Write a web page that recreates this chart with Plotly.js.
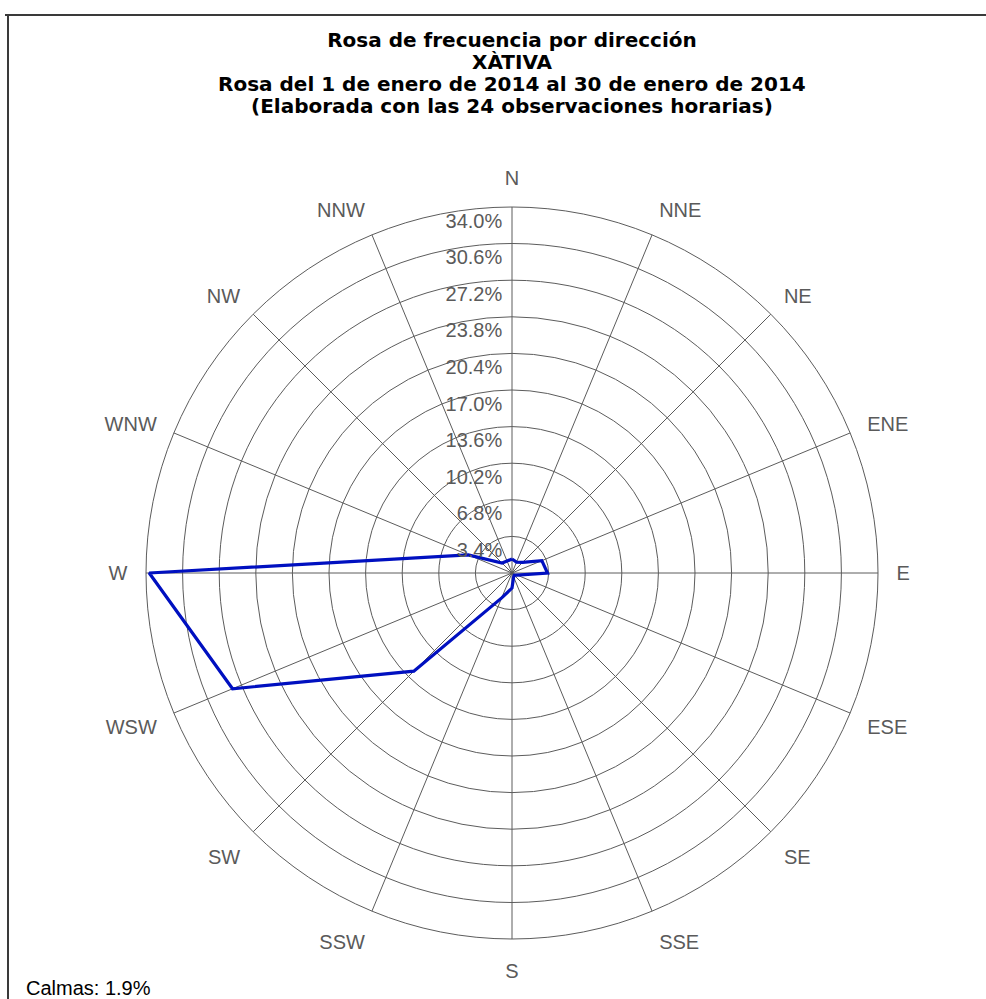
<!DOCTYPE html>
<html>
<head>
<meta charset="utf-8">
<script src="https://cdn.plot.ly/plotly-3.0.1.min.js"></script>
<style>
  html, body { margin: 0; padding: 0; background: #ffffff; }
  #chart { width: 986px; height: 999px; }
</style>
</head>
<body>
<div id="chart"></div>
<script>
// ---- Data ----
const directions = ['N','NNE','NE','ENE','E','ESE','SE','SSE','S','SSW','SW','WSW','W','WNW','NW','NNW'];
const frequency  = [1.3, 1.1, 1.4, 3.0, 3.3, 0.5, 0.3, 0.4, 1.4, 2.5, 12.9, 28.1, 33.7, 4.4, 1.3, 1.2];
const ringValues = [3.4, 6.8, 10.2, 13.6, 17.0, 20.4, 23.8, 27.2, 30.6, 34.0];
const ringLabels = ['3.4%','6.8%','10.2%','13.6%','17.0%','20.4%','23.8%','27.2%','30.6%','34.0%'];
const calmsText  = 'Calmas: 1.9%';
const titleLines = [
  'Rosa de frecuencia por dirección',
  'XÀTIVA',
  'Rosa del 1 de enero de 2014 al 30 de enero de 2014',
  '(Elaborada con las 24 observaciones horarias)'
];

// ---- Derived ----
const step = 360 / directions.length;
const angles = directions.map((d, i) => i * step);
const lineTheta = angles.concat([angles[0]]);
const lineR = frequency.concat([frequency[0]]);

const W = 986, H = 999;
const cx = 512, cy = 573, rad = 366;
const px = x => x / W;
const py = y => (H - y) / H;

const gridColor = '#5c5c5c';
const labelFont = { family: 'Liberation Sans, Arial, sans-serif', size: 20, color: '#5a5a5a' };
const titleFont = { family: 'DejaVu Sans, sans-serif', size: 20, color: '#000000', weight: 'bold' };
const titleY = [40, 62, 84, 106];

const traces = [
  {
    type: 'scatterpolar',
    mode: 'lines',
    r: lineR,
    theta: lineTheta,
    thetaunit: 'degrees',
    line: { color: '#0010c0', width: 3.2 },
    hoverinfo: 'skip',
    showlegend: false
  },
  {
    type: 'scatterpolar',
    mode: 'text+markers',
    r: ringValues.map(v => v - 1.45),
    theta: ringValues.map(() => 0),
    text: ringLabels,
    textposition: 'middle left',
    textfont: labelFont,
    marker: { size: 14, color: 'rgba(0,0,0,0)' },
    hoverinfo: 'skip',
    showlegend: false,
    cliponaxis: false
  }
];

const annotations = titleLines.slice(1).map((t, i) => ({
  text: '<b>' + t + '</b>',
  xref: 'paper', yref: 'paper',
  x: px(512), y: py(titleY[i + 1]),
  xanchor: 'center', yanchor: 'middle',
  showarrow: false,
  font: titleFont
}));
annotations.push({
  text: calmsText,
  xref: 'paper', yref: 'paper',
  x: px(24), y: py(988),
  xanchor: 'left', yanchor: 'middle',
  showarrow: false,
  font: { family: 'Liberation Sans, Arial, sans-serif', size: 20, color: '#000000' }
});

const layout = {
  width: W, height: H,
  margin: { l: 0, r: 0, t: 0, b: 0, pad: 0 },
  paper_bgcolor: '#ffffff',
  plot_bgcolor: '#ffffff',
  showlegend: false,
  title: {
    text: '<b>' + titleLines[0] + '</b>',
    x: px(512), xanchor: 'center',
    y: py(titleY[0]), yanchor: 'middle',
    font: titleFont
  },
  polar: {
    domain: { x: [px(cx - rad), px(cx + rad)], y: [py(cy + rad), py(cy - rad)] },
    bgcolor: '#ffffff',
    angularaxis: {
      type: 'linear',
      thetaunit: 'degrees',
      rotation: 90,
      direction: 'clockwise',
      tickmode: 'array',
      tickvals: angles,
      ticktext: directions,
      showgrid: true,
      gridcolor: gridColor,
      gridwidth: 1,
      showline: true,
      linecolor: gridColor,
      linewidth: 1,
      ticks: 'outside',
      ticklen: 14,
      tickcolor: 'rgba(0,0,0,0)',
      tickfont: labelFont
    },
    radialaxis: {
      range: [0, 34],
      tickmode: 'array',
      tickvals: ringValues,
      showticklabels: false,
      ticks: '',
      showline: false,
      showgrid: true,
      gridcolor: gridColor,
      gridwidth: 1
    }
  },
  annotations: annotations,
  shapes: [
    { type: 'line', xref: 'paper', yref: 'paper', x0: px(5), x1: 1, y0: py(15), y1: py(15),
      line: { color: '#3a3a3a', width: 2 } },
    { type: 'line', xref: 'paper', yref: 'paper', x0: px(8), x1: px(8), y0: py(15), y1: 0,
      line: { color: '#3a3a3a', width: 2 } }
  ]
};

Plotly.newPlot('chart', traces, layout, { displayModeBar: false, staticPlot: true });
</script>
</body>
</html>
